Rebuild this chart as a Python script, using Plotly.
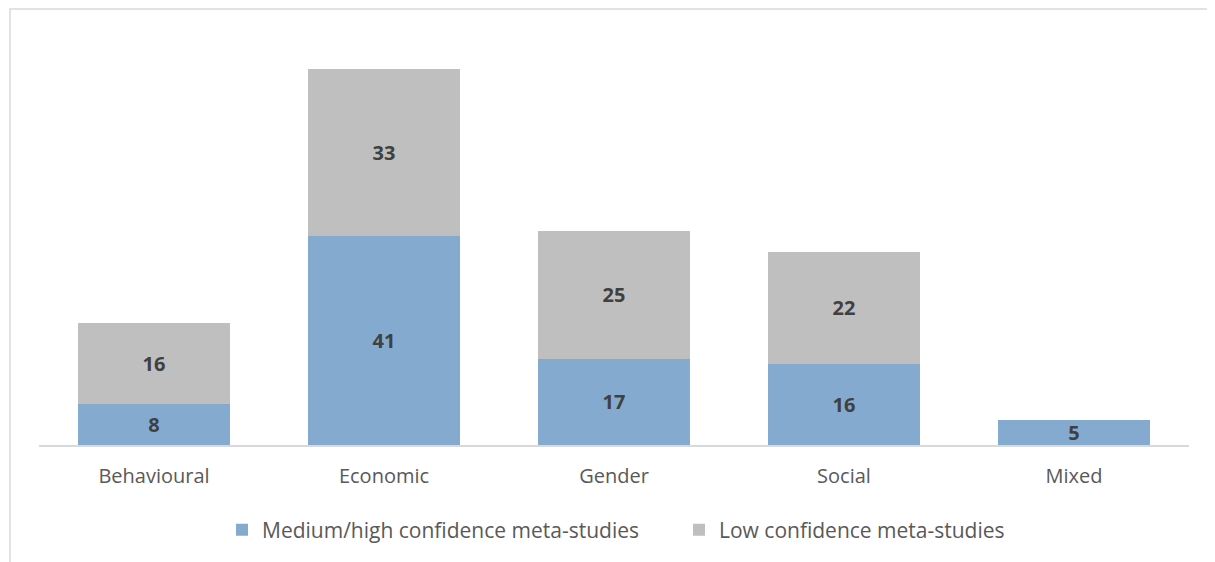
import plotly.graph_objects as go

categories = ["Behavioural", "Economic", "Gender", "Social", "Mixed"]
medium_high = [8, 41, 17, 16, 5]
low = [16, 33, 25, 22, None]

series_names = ["Medium/high confidence meta-studies", "Low confidence meta-studies"]
colors = ["#84ABCF", "#BFBFBF"]

# page has an 8px body offset; figure sized so it fits the window
OFF = 8
W, H = 1215 - OFF, 562 - OFF
PX0, PX1, PY0, PY1 = 39, 1189, 38, 445   # plot area in window pixels
L, T = PX0 - OFF, PY0 - OFF
pw, ph = PX1 - PX0, PY1 - PY0
R, B = W - L - pw, H - T - ph

fig = go.Figure()
for name, vals, col in zip(series_names, [medium_high, low], colors):
    fig.add_trace(go.Bar(
        x=categories, y=vals, name=name,
        marker=dict(color=col, line=dict(width=0)),
        text=[("" if v is None else str(v)) for v in vals],
        textposition="inside", insidetextanchor="middle",
        textangle=0, constraintext="none",
        textfont=dict(family="Open Sans", size=20, color="#404040", weight="bold"),
        cliponaxis=False,
    ))

fig.update_layout(
    barmode="stack",
    bargap=0.335,
    width=W, height=H,
    margin=dict(l=L, r=R, t=T, b=B),
    plot_bgcolor="white", paper_bgcolor="white",
    font=dict(family="Open Sans", size=20, color="#595959"),
    uniformtext=dict(mode=False),
    xaxis=dict(showline=True, linecolor="#D9D9D9", linewidth=1.5, ticks="",
               showgrid=False, tickfont=dict(size=20, color="#595959"),
               ticklabelstandoff=12),
    yaxis=dict(range=[0, 80], visible=False, showgrid=False),
    legend=dict(orientation="h", x=(679 - PX0) / pw, xanchor="center",
                y=(PY1 - 530) / ph, yanchor="middle",
                font=dict(size=21, color="#595959"),
                itemwidth=30, entrywidth=412, entrywidthmode="pixels",
                traceorder="normal"),
    showlegend=True,
)

fig.add_shape(type="rect", xref="paper", yref="paper",
              x0=(10 - PX0) / pw, x1=(1225 - PX0) / pw,
              y0=(PY1 - 570) / ph, y1=(PY1 - 9) / ph,
              line=dict(color="#D9D9D9", width=1.5), fillcolor="rgba(0,0,0,0)", layer="below")

fig.write_html("out.html")
